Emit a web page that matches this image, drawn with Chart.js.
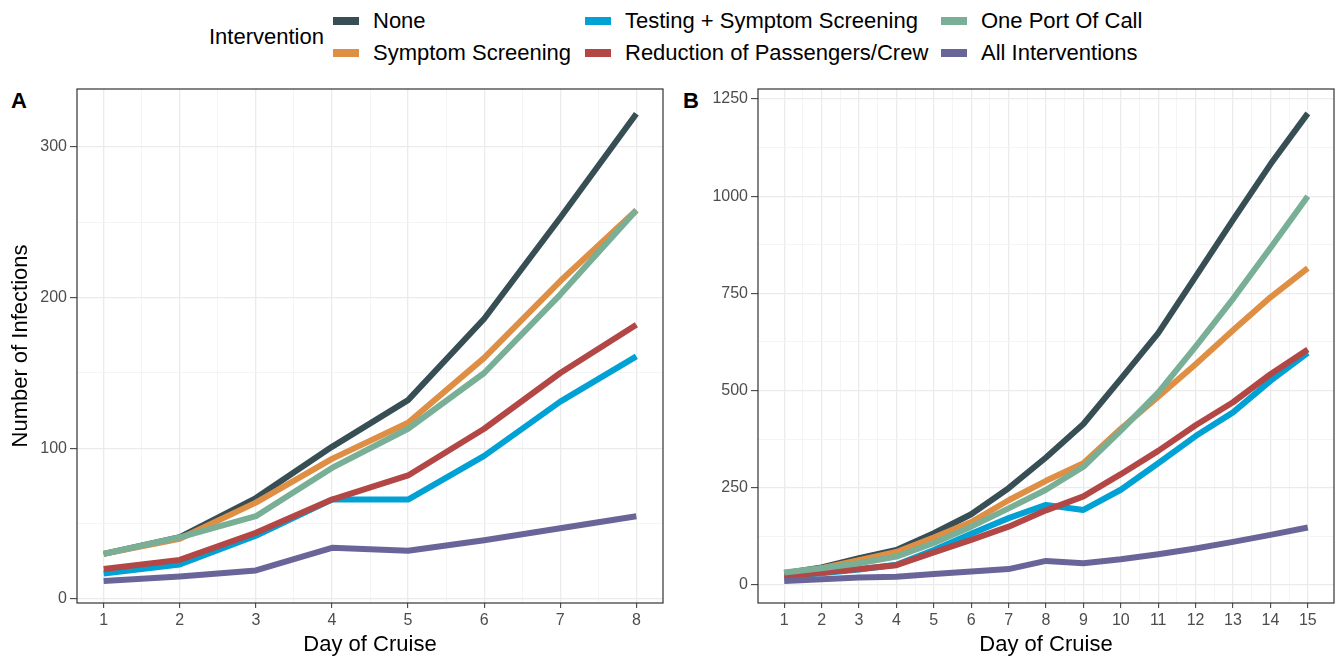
<!DOCTYPE html>
<html>
<head>
<meta charset="utf-8">
<script src="https://cdn.jsdelivr.net/npm/chart.js@4.4.1/dist/chart.umd.min.js"></script>
<style>
  html, body { margin: 0; padding: 0; background: #fff; }
  body { width: 1343px; height: 664px; position: relative; overflow: hidden;
         font-family: "Liberation Sans", Arial, sans-serif; }
  .box { position: absolute; }
  .key { position: absolute; width: 26px; height: 8px; }
  .lab { position: absolute; font-size: 22px; line-height: 24px; color: #000; white-space: nowrap; }
  .tag { position: absolute; font-weight: bold; font-size: 22px; line-height: 26px; color: #000; }
</style>
</head>
<body>
<div id="legend"></div>
<div class="tag" style="left:11px; top:88px;">A</div>
<div class="tag" style="left:683px; top:88px;">B</div>
<div class="box" style="left:0; top:80px;"><canvas id="chartA" width="680" height="584"></canvas></div>
<div class="box" style="left:680px; top:80px;"><canvas id="chartB" width="663" height="584"></canvas></div>

<script>
// series names and colours (ggsci JAMA palette)
const interventions = ['None', 'Symptom Screening', 'Testing + Symptom Screening',
  'Reduction of Passengers/Crew', 'One Port Of Call', 'All Interventions'];
const colours = ['#374E55', '#DF8F44', '#00A1D5', '#B24745', '#79AF97', '#6A6599'];

// panel A: 8 day cruise
const daysA = [1, 2, 3, 4, 5, 6, 7, 8];
const noneA      = [30, 41, 67, 101, 132, 186, 253, 322];
const symptomA   = [30, 40, 64, 93, 117, 160, 211, 258];
const testingA   = [17, 23, 42, 66, 66, 95, 131, 161];
const reductionA = [20, 26, 44, 66, 82, 113, 150, 182];
const onePortA   = [30, 41, 55, 87, 113, 150, 202, 258];
const allA       = [12, 15, 19, 34, 32, 39, 47, 55];

// panel B: 15 day cruise
const daysB = [1, 2, 3, 4, 5, 6, 7, 8, 9, 10, 11, 12, 13, 14, 15];
const noneB      = [30, 45, 69, 90, 133, 182, 249, 328, 414, 530, 648, 793, 939, 1082, 1213];
const symptomB   = [30, 43, 64, 85, 122, 162, 218, 268, 313, 402, 484, 568, 655, 740, 815];
const testingB   = [22, 30, 40, 52, 90, 132, 172, 206, 193, 245, 313, 383, 444, 525, 597];
const reductionB = [22, 32, 41, 51, 84, 116, 150, 192, 228, 285, 345, 411, 470, 542, 606];
const onePortB   = [32, 43, 56, 73, 108, 150, 197, 245, 304, 397, 495, 613, 736, 867, 1000];
const allB       = [10, 15, 19, 21, 28, 35, 41, 62, 56, 66, 79, 94, 111, 129, 148];

// axis ticks (major labelled, minor only grid)
const yTicksA = [0, 100, 200, 300];
const yMinorA = [50, 150, 250];
const xMinorA = [1.5, 2.5, 3.5, 4.5, 5.5, 6.5, 7.5];
const yTicksB = [0, 250, 500, 750, 1000, 1250];
const yMinorB = [125, 375, 625, 875, 1125];
const xMinorB = [1.5, 2.5, 3.5, 4.5, 5.5, 6.5, 7.5, 8.5, 9.5, 10.5, 11.5, 12.5, 13.5, 14.5];

const FONT = '"Liberation Sans", Arial, sans-serif';

// legend, laid out like ggplot's 2-row guide
const legend = document.getElementById('legend');
const title = document.createElement('div');
title.className = 'lab';
title.textContent = 'Intervention';
title.style.left = '209px';
title.style.top = (37 - 12) + 'px';
legend.appendChild(title);
const colX = [333, 585, 941];
const rowY = [21, 53];
interventions.forEach((name, i) => {
  const cx = colX[Math.floor(i / 2)], cy = rowY[i % 2];
  const key = document.createElement('div');
  key.className = 'key';
  key.style.background = colours[i];
  key.style.left = cx + 'px';
  key.style.top = (cy - 4) + 'px';
  legend.appendChild(key);
  const lab = document.createElement('div');
  lab.className = 'lab';
  lab.textContent = name;
  lab.style.left = (cx + 40) + 'px';
  lab.style.top = (cy - 12) + 'px';
  legend.appendChild(lab);
});

const panelBorder = {
  id: 'panelBorder',
  afterDraw(chart) {
    const { ctx, chartArea: a } = chart;
    ctx.save();
    ctx.strokeStyle = '#333333';
    ctx.lineWidth = 1.2;
    ctx.strokeRect(a.left, a.top, a.right - a.left, a.bottom - a.top);
    ctx.restore();
  }
};

function makeChart(id, days, series, cfg) {
  const datasets = series.map((vals, i) => ({
    label: interventions[i],
    data: days.map((d, j) => ({ x: d, y: vals[j] })),
    borderColor: colours[i],
    backgroundColor: colours[i],
    borderWidth: 6,
    borderJoinStyle: 'round',
    pointRadius: 0,
    tension: 0,
    order: series.length - 1 - i   // later factors drawn on top, like ggplot
  }));

  const isMajorX = v => days.includes(v);
  const isMajorY = v => cfg.yTicks.includes(v);

  return new Chart(document.getElementById(id), {
    type: 'line',
    data: { datasets },
    plugins: [panelBorder],
    options: {
      responsive: false,
      animation: false,
      layout: { padding: { top: 9, right: cfg.padRight, left: 0, bottom: 0 } },
      plugins: { legend: { display: false }, tooltip: { enabled: false } },
      scales: {
        x: {
          type: 'linear',
          min: cfg.xMin, max: cfg.xMax,
          afterBuildTicks: ax => {
            ax.ticks = days.concat(cfg.xMinor).sort((a, b) => a - b).map(v => ({ value: v }));
          },
          afterFit: ax => { ax.height = 61; ax.paddingLeft = 0; ax.paddingRight = 0; },
          ticks: {
            autoSkip: false, maxRotation: 0, padding: 3, color: '#4D4D4D',
            font: { size: 16, family: FONT },
            callback: v => isMajorX(v) ? String(v) : ''
          },
          grid: {
            color: c => isMajorX(c.tick.value) ? '#EBEBEB' : '#F3F3F3',
            lineWidth: c => isMajorX(c.tick.value) ? 1.3 : 0.9,
            tickLength: 5,
            tickColor: c => isMajorX(c.tick.value) ? '#333333' : 'rgba(0,0,0,0)',
            tickWidth: 1
          },
          border: { display: false },
          title: {
            display: true, text: 'Day of Cruise', color: '#000',
            font: { size: 22, family: FONT }, padding: { top: 0, bottom: 6 }
          }
        },
        y: {
          min: cfg.yMin, max: cfg.yMax,
          afterBuildTicks: ax => {
            ax.ticks = cfg.yTicks.concat(cfg.yMinor).sort((a, b) => a - b).map(v => ({ value: v }));
          },
          afterFit: ax => { ax.width = cfg.yWidth; ax.paddingTop = 0; ax.paddingBottom = 0; },
          ticks: {
            autoSkip: false, padding: 3, color: '#4D4D4D',
            font: { size: 16, family: FONT },
            callback: v => isMajorY(v) ? String(v) : ''
          },
          grid: {
            color: c => isMajorY(c.tick.value) ? '#EBEBEB' : '#F3F3F3',
            lineWidth: c => isMajorY(c.tick.value) ? 1.3 : 0.9,
            tickLength: 7,
            tickColor: c => isMajorY(c.tick.value) ? '#333333' : 'rgba(0,0,0,0)',
            tickWidth: 1
          },
          border: { display: false },
          title: {
            display: cfg.yTitle !== '', text: cfg.yTitle, color: '#000',
            font: { size: 22, family: FONT }, padding: { top: 8, bottom: 0 }
          }
        }
      }
    }
  });
}

makeChart('chartA', daysA, [noneA, symptomA, testingA, reductionA, onePortA, allA], {
  xMin: 0.65, xMax: 8.35, yMin: -2.6, yMax: 338.4,
  yTicks: yTicksA, yMinor: yMinorA, xMinor: xMinorA,
  yWidth: 77, padRight: 17, yTitle: 'Number of Infections'
});

makeChart('chartB', daysB, [noneB, symptomB, testingB, reductionB, onePortB, allB], {
  xMin: 0.3, xMax: 15.7, yMin: -46.3, yMax: 1275.7,
  yTicks: yTicksB, yMinor: yMinorB, xMinor: xMinorB,
  yWidth: 78, padRight: 9, yTitle: ''
});
</script>
</body>
</html>
